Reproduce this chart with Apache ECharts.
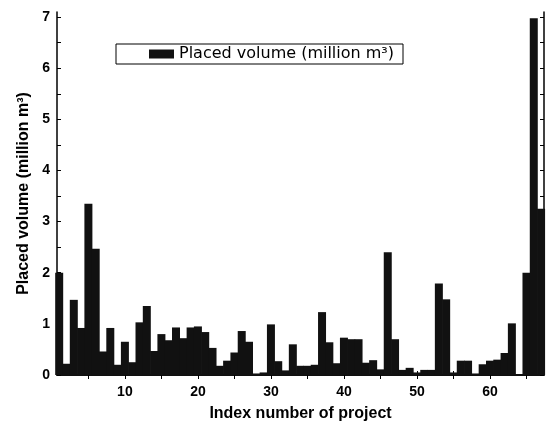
<!DOCTYPE html>
<html>
<head>
<meta charset="utf-8">
<script src="https://cdn.jsdelivr.net/npm/echarts@6/dist/echarts.min.js"></script>
<style>
  html, body { margin: 0; padding: 0; background: #fff; }
  #chartBox { width: 549px; height: 429px; }
</style>
</head>
<body>
<div id="chartBox"></div>
<script>
// project numbers along x
var projectIndex = [1, 2, 3, 4, 5, 6, 7, 8, 9, 10, 11, 12, 13, 14, 15, 16, 17, 18, 19, 20,
  21, 22, 23, 24, 25, 26, 27, 28, 29, 30, 31, 32, 33, 34, 35, 36, 37, 38, 39, 40,
  41, 42, 43, 44, 45, 46, 47, 48, 49, 50, 51, 52, 53, 54, 55, 56, 57, 58, 59, 60,
  61, 62, 63, 64, 65, 66, 67];
// placed volume, million m3
var placedVolume = [2.0, 0.22, 1.47, 0.92, 3.35, 2.47, 0.46, 0.92, 0.2, 0.65,
  0.25, 1.03, 1.35, 0.47, 0.8, 0.68, 0.93, 0.72, 0.93, 0.95,
  0.84, 0.53, 0.18, 0.28, 0.44, 0.86, 0.65, 0.03, 0.05, 0.99,
  0.27, 0.09, 0.6, 0.18, 0.18, 0.2, 1.23, 0.64, 0.23, 0.73,
  0.7, 0.7, 0.24, 0.29, 0.11, 2.4, 0.7, 0.1, 0.14, 0.05,
  0.1, 0.1, 1.79, 1.48, 0.05, 0.28, 0.28, 0.03, 0.21, 0.28,
  0.3, 0.43, 1.01, 0, 2.0, 6.98, 3.25];

var xTickLabels = [10, 20, 30, 40, 50, 60];
var xTickMarks = [5, 10, 15, 20, 25, 30, 35, 40, 45, 50, 55, 60, 65];
var yTickLabels = [0, 1, 2, 3, 4, 5, 6, 7];
var yTickMarks = [0, 0.5, 1, 1.5, 2, 2.5, 3, 3.5, 4, 4.5, 5, 5.5, 6, 6.5, 7];

var seriesName = 'Placed volume (million m\u00b3)';
var fontName = '"Liberation Sans", Arial, Helvetica, sans-serif';

var chartBar = echarts.init(document.getElementById('chartBox'));

var frameLine = { show: true, lineStyle: { color: '#000', width: 1.5 } };

var option = {
  backgroundColor: '#fff',
  animation: false,
  grid: { left: 57, right: 5, top: 12, bottom: 54 },
  legend: {
    data: [seriesName],
    left: 116,
    top: 44,
    padding: [2, 9, 2, 33],
    borderColor: '#000',
    borderWidth: 1,
    itemWidth: 25,
    itemHeight: 9,
    icon: 'rect',
    textStyle: { color: '#000', fontSize: 16, fontFamily: '"DejaVu Sans", sans-serif' }
  },
  xAxis: [
    {
      type: 'value',
      min: 0.7,
      max: 67.4,
      position: 'bottom',
      name: 'Index number of project',
      nameLocation: 'middle',
      nameGap: 31,
      nameTextStyle: { color: '#000', fontSize: 16, fontWeight: 'bold', fontFamily: fontName },
      axisLine: frameLine,
      axisTick: { inside: true, length: 4, customValues: xTickMarks, lineStyle: { color: '#000' } },
      axisLabel: { customValues: xTickLabels, margin: 10, color: '#000', fontSize: 14, fontWeight: 'bold', fontFamily: fontName },
      splitLine: { show: false }
    },
    {
      type: 'value',
      min: 0.7,
      max: 67.4,
      position: 'top',
      axisLine: frameLine,
      axisTick: { inside: true, length: 4, customValues: xTickMarks, lineStyle: { color: '#000' } },
      axisLabel: { show: false },
      splitLine: { show: false }
    }
  ],
  yAxis: [
    {
      type: 'value',
      min: 0,
      max: 7.1,
      position: 'left',
      name: 'Placed volume (million m\u00b3)',
      nameLocation: 'middle',
      nameGap: 22,
      nameTextStyle: { color: '#000', fontSize: 16, fontWeight: 'bold', fontFamily: fontName },
      axisLine: frameLine,
      axisTick: { inside: true, length: 4, customValues: yTickMarks, lineStyle: { color: '#000' } },
      axisLabel: { customValues: yTickLabels, margin: 7, color: '#000', fontSize: 14, fontWeight: 'bold', fontFamily: fontName },
      splitLine: { show: false }
    },
    {
      type: 'value',
      min: 0,
      max: 7.1,
      position: 'right',
      axisLine: frameLine,
      axisTick: { inside: true, length: 4, customValues: yTickMarks, lineStyle: { color: '#000' } },
      axisLabel: { show: false },
      splitLine: { show: false }
    }
  ],
  series: [
    {
      name: seriesName,
      type: 'bar',
      xAxisIndex: 0,
      yAxisIndex: 0,
      barWidth: 8,   // a bit wider than one step so neighbours touch
      itemStyle: { color: '#111', borderWidth: 0 },
      data: projectIndex.map(function (n, i) { return [n, placedVolume[i]]; })
    }
  ]
};

chartBar.setOption(option);
</script>
</body>
</html>
